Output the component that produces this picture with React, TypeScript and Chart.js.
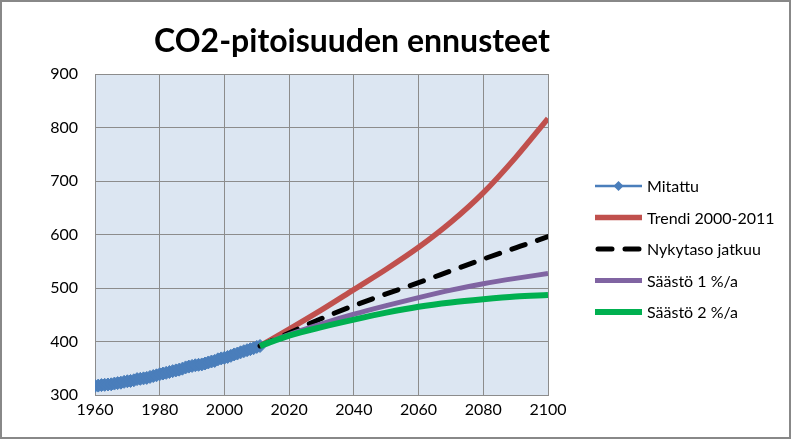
import React, { useEffect, useRef } from "react";
import { Chart, registerables } from "chart.js";

Chart.register(...registerables);

// ---- data ----
const titleText = "CO2-pitoisuuden ennusteet";

const measuredYears = [
  1960, 1961, 1962, 1963, 1964, 1965, 1966, 1967, 1968, 1969,
  1970, 1971, 1972, 1973, 1974, 1975, 1976, 1977, 1978, 1979,
  1980, 1981, 1982, 1983, 1984, 1985, 1986, 1987, 1988, 1989,
  1990, 1991, 1992, 1993, 1994, 1995, 1996, 1997, 1998, 1999,
  2000, 2001, 2002, 2003, 2004, 2005, 2006, 2007, 2008, 2009,
  2010, 2011,
];
const measured = [
  316.9, 317.6, 318.5, 319.0, 319.6, 320.0, 321.4, 322.2, 323.0, 324.6,
  325.7, 326.3, 327.5, 329.7, 330.2, 331.1, 332.0, 333.8, 335.4, 336.8,
  338.7, 340.1, 341.4, 343.0, 344.6, 346.0, 347.4, 349.2, 351.6, 353.1,
  354.4, 355.6, 356.4, 357.1, 358.8, 360.8, 362.6, 363.7, 366.7, 368.4,
  369.6, 371.1, 373.2, 375.8, 377.5, 379.8, 381.9, 383.8, 385.6, 387.4,
  389.9, 391.6,
];

const projYears = [2011, 2020, 2030, 2040, 2050, 2060, 2070, 2080, 2090, 2100];
const trend = [391.6, 423, 459, 497, 535, 576, 623, 678, 744, 817];
const current = [391.6, 416, 443, 467, 489, 510, 532, 554, 575, 596];
const save1 = [391.6, 413, 433, 451, 467, 482, 496, 508, 518, 527];
const save2 = [391.6, 411, 427, 441, 454, 465, 473, 479, 484, 487];

const xTicks = [1960, 1980, 2000, 2020, 2040, 2060, 2080, 2100];
const yTicks = [300, 400, 500, 600, 700, 800, 900];

const seriesNames = ["Mitattu", "Trendi 2000-2011", "Nykytaso jatkuu", "Säästö 1 %/a", "Säästö 2 %/a"];

const toPoints = (xs: number[], ys: number[]) => xs.map((x, i) => ({ x, y: ys[i] }));

const FONT = "Lato, 'Open Sans', sans-serif";

export default function App() {
  const ref = useRef<HTMLCanvasElement | null>(null);

  useEffect(() => {
    if (!ref.current) return;

    const framePlugin = {
      id: "frame",
      beforeDraw(chart: any) {
        const { ctx, chartArea, width, height } = chart;
        ctx.save();
        ctx.fillStyle = "#ffffff";
        ctx.fillRect(0, 0, width, height);
        ctx.fillStyle = "#dce6f2";
        ctx.fillRect(chartArea.left, chartArea.top, chartArea.right - chartArea.left, chartArea.bottom - chartArea.top);
        ctx.restore();
      },
      afterDraw(chart: any) {
        const { ctx, width, height, chartArea } = chart;
        ctx.save();
        // outer frame
        ctx.strokeStyle = "#888888";
        ctx.lineWidth = 2;
        ctx.strokeRect(1, 1, width - 2, height - 2);
        // title
        ctx.fillStyle = "#000";
        ctx.font = `bold 32px ${FONT}`;
        ctx.textAlign = "center";
        ctx.textBaseline = "middle";
        ctx.fillText(titleText, 352, 42);
        // legend
        const ds = chart.data.datasets;
        const x0 = chartArea.right + 47;
        const x1 = x0 + 47;
        const startY = 186;
        const step = 31.5;
        ctx.font = `16px ${FONT}`;
        ctx.textAlign = "left";
        ds.forEach((d: any, i: number) => {
          const y = startY + i * step;
          ctx.save();
          ctx.strokeStyle = d.borderColor;
          ctx.lineWidth = d.borderWidth;
          ctx.lineCap = d.borderCapStyle || "butt";
          ctx.setLineDash(d.borderDash || []);
          ctx.beginPath();
          if (d.borderDash && d.borderDash.length) {
            ctx.moveTo(x0 + 3, y);
          } else {
            ctx.moveTo(x0, y);
          }
          ctx.lineTo(x1, y);
          ctx.stroke();
          ctx.setLineDash([]);
          if (d.pointRadius > 0) {
            const r = 5;
            const cx = (x0 + x1) / 2;
            ctx.fillStyle = d.pointBackgroundColor;
            ctx.beginPath();
            ctx.moveTo(cx, y - r);
            ctx.lineTo(cx + r, y);
            ctx.lineTo(cx, y + r);
            ctx.lineTo(cx - r, y);
            ctx.closePath();
            ctx.fill();
          }
          ctx.restore();
          ctx.fillStyle = "#000";
          ctx.textBaseline = "middle";
          ctx.fillText(d.label, x1 + 5, y + 1);
        });
        ctx.restore();
      },
    };

    const chart = new Chart(ref.current, {
      type: "line",
      data: {
        datasets: [
          {
            label: seriesNames[0],
            data: toPoints(measuredYears, measured),
            borderColor: "#4a7ebb",
            backgroundColor: "#4a7ebb",
            borderWidth: 2.5,
            pointStyle: "rectRot",
            pointRadius: 6.5,
            pointBackgroundColor: "#4a7ebb",
            pointBorderColor: "#4a7ebb",
            pointBorderWidth: 1,
            order: 4,
          },
          {
            label: seriesNames[1],
            data: toPoints(projYears, trend),
            borderColor: "#c0504d",
            borderWidth: 5.5,
            pointRadius: 0,
            cubicInterpolationMode: "monotone",
            order: 3,
          },
          {
            label: seriesNames[2],
            data: toPoints(projYears, current),
            borderColor: "#000000",
            borderWidth: 5,
            borderDash: [14, 13],
            borderCapStyle: "round",
            pointRadius: 0,
            cubicInterpolationMode: "monotone",
            order: 2,
          },
          {
            label: seriesNames[3],
            data: toPoints(projYears, save1),
            borderColor: "#8064a2",
            borderWidth: 5,
            pointRadius: 0,
            cubicInterpolationMode: "monotone",
            order: 1,
          },
          {
            label: seriesNames[4],
            data: toPoints(projYears, save2),
            borderColor: "#00b050",
            borderWidth: 6,
            pointRadius: 0,
            cubicInterpolationMode: "monotone",
            order: 0,
          },
        ],
      },
      options: {
        responsive: false,
        animation: false,
        devicePixelRatio: 1,
        layout: { padding: { top: 74, right: 243, left: 0, bottom: 0 } },
        plugins: {
          legend: { display: false },
          title: { display: false },
          tooltip: { enabled: false },
        },
        scales: {
          x: {
            type: "linear",
            min: xTicks[0],
            max: xTicks[xTicks.length - 1],
            afterBuildTicks: (scale: any) => {
              scale.ticks = xTicks.map((v) => ({ value: v }));
            },
            afterFit: (scale: any) => {
              scale.height = 44;
            },
            ticks: {
              callback: (v: any) => String(v),
              color: "#000",
              font: { family: FONT, size: 16 },
              padding: 5,
              maxRotation: 0,
            },
            grid: { color: "#8c8c8c", lineWidth: 1, drawTicks: false },
            border: { color: "#8c8c8c", width: 1 },
          },
          y: {
            type: "linear",
            min: yTicks[0],
            max: yTicks[yTicks.length - 1],
            afterBuildTicks: (scale: any) => {
              scale.ticks = yTicks.map((v) => ({ value: v }));
            },
            afterFit: (scale: any) => {
              scale.width = 95;
            },
            ticks: {
              callback: (v: any) => String(v),
              color: "#000",
              font: { family: FONT, size: 16 },
              padding: 17,
            },
            grid: { color: "#8c8c8c", lineWidth: 1, drawTicks: false },
            border: { color: "#8c8c8c", width: 1 },
          },
        },
      },
      plugins: [framePlugin],
    } as any);

    return () => chart.destroy();
  }, []);

  return (
    <div style={{ position: "fixed", left: 0, top: 0, width: 791, height: 439 }}>
      <canvas ref={ref} width={791} height={439} style={{ width: 791, height: 439, display: "block" }} />
    </div>
  );
}
